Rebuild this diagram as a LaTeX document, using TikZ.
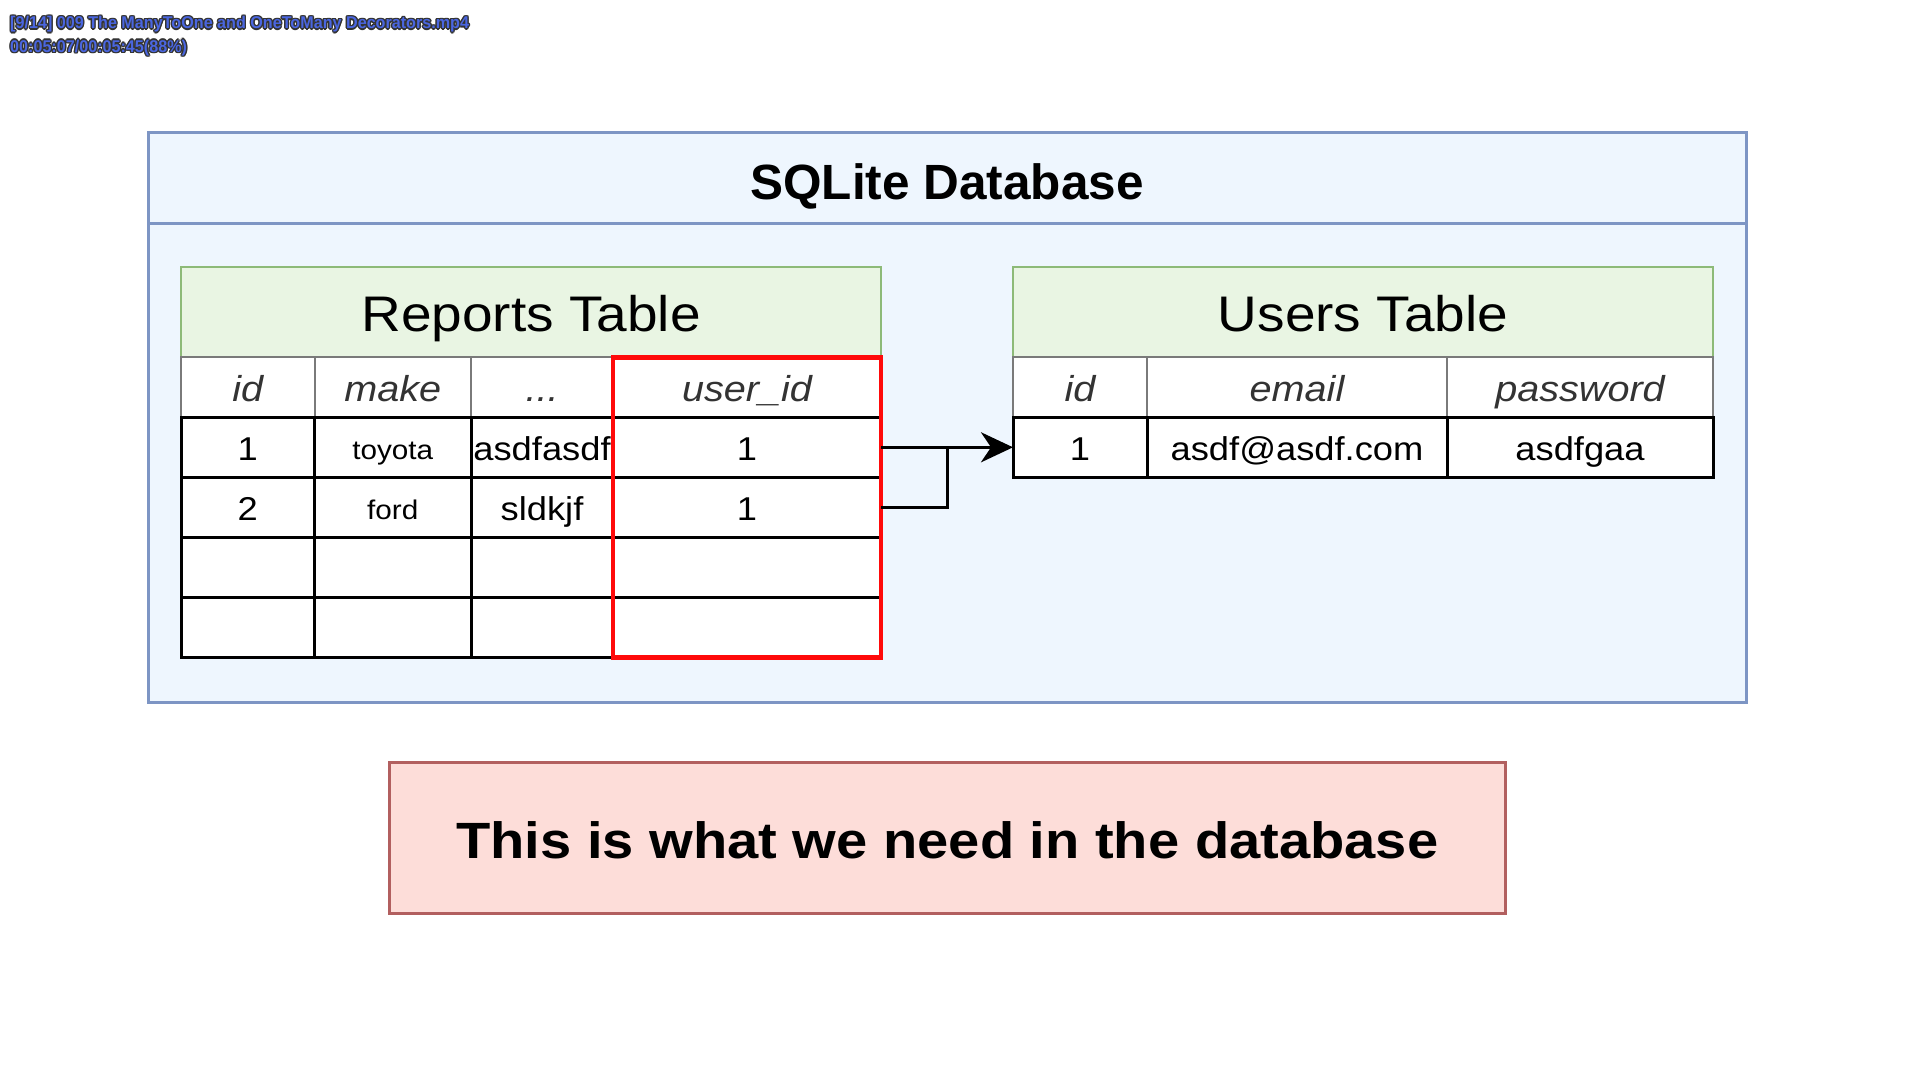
\documentclass[tikz,border=0pt]{standalone}
\usepackage{fontspec}
\setmainfont{Liberation Sans}[FakeStretch=1.1]
\newfontfamily\titlefont{Liberation Sans}
\newfontfamily\ovfont{Liberation Sans}[FakeStretch=0.95]
\usetikzlibrary{calc,arrows.meta}
\definecolor{dbfill}{HTML}{EEF6FE}
\definecolor{dbline}{HTML}{7D95C4}
\definecolor{tabfill}{HTML}{E9F5E3}
\definecolor{tabline}{HTML}{8DBA78}
\definecolor{notefill}{HTML}{FDDDD9}
\definecolor{noteline}{HTML}{B25F5F}
\definecolor{headtext}{HTML}{333333}
\definecolor{hgray}{HTML}{7A7A7A}
\definecolor{ovblue}{HTML}{4A66E0}
\definecolor{ovdark}{HTML}{333333}
\definecolor{redmark}{HTML}{FF0A0A}
\begin{document}
\begin{tikzpicture}[x=1pt,y=-1pt,
  box/.style={anchor=north west, inner sep=0pt, outer sep=0pt},
  band/.style={box, draw=tabline, fill=tabfill, line width=2pt, minimum height=90.6pt, minimum width=700pt,
    font=\fontsize{50}{58}\selectfont, text height=39pt, text depth=0pt},
  hcell/.style={box, draw=hgray, fill=white, line width=2pt, minimum height=60pt,
    font=\fontsize{36}{43}\selectfont\itshape, text=headtext, text height=27.3pt, text depth=0pt},
  dcell/.style={box, draw=black, fill=white, line width=3pt, minimum height=60pt,
    font=\fontsize{33}{39}\selectfont, text height=27pt, text depth=0pt},
  scell/.style={dcell, font=\fontsize{27}{32}\selectfont, text height=25pt},
  ovtext/.style={anchor=west, inner sep=0pt, font=\ovfont\bfseries\fontsize{17}{20}\selectfont}
]
\useasboundingbox (0,0) rectangle (1919,1079);
\fill[white] (0,0) rectangle (1919,1079);

% overlay text of the video player
\foreach \dx/\dy [count=\k] in {-1.4/0,1.4/0,0/-1.4,0/1.4,-1/-1,1/1,-1/1,1/-1}{
  \node[ovtext, text=ovdark] (ovs\k) at (10+\dx,24.5+\dy) {[9/14] 009 The ManyToOne and OneToMany Decorators.mp4};
  \node[ovtext, text=ovdark] (ovt\k) at (10+\dx,47.7+\dy) {00:05:07/00:05:45(88\%)};
}
\node[ovtext, text=ovblue] (ov1) at (10,24.5) {[9/14] 009 The ManyToOne and OneToMany Decorators.mp4};
\node[ovtext, text=ovblue] (ov2) at (10,47.7) {00:05:07/00:05:45(88\%)};

% database container
\node[box, draw=dbline, fill=dbfill, line width=3pt, minimum width=1598pt, minimum height=570.5pt] (db) at (148,132) {};
\node[box, draw=dbline, line width=3pt, minimum width=1598pt, minimum height=91pt,
  font=\titlefont\bfseries\fontsize{49.5}{58}\selectfont, text height=43pt, text depth=0pt] (dbhead) at (148,132) {SQLite Database};

% Reports table
\node[band] (rtitle) at (181,266.8) {Reports Table};
\node[hcell, minimum width=133.5pt] (rhid)   at (181,357.4) {id};
\node[hcell, minimum width=156.5pt] (rhmake) at (314.5,357.4) {make};
\node[hcell, minimum width=142pt]   (rhdots) at (471,357.4) {...};
\node[hcell, minimum width=268pt]   (rhuid)  at (613,357.4) {user\_id};

\node[dcell, minimum width=133.5pt] (r1id)   at (181,417.3) {1};
\node[scell, minimum width=156.5pt] (r1make) at (314.5,417.3) {toyota};
\node[dcell, minimum width=142pt]   (r1dots) at (471,417.3) {asdfasdf};
\node[dcell, minimum width=268pt]   (r1uid)  at (613,417.3) {1};

\node[dcell, minimum width=133.5pt] (r2id)   at (181,477.3) {2};
\node[scell, minimum width=156.5pt] (r2make) at (314.5,477.3) {ford};
\node[dcell, minimum width=142pt]   (r2dots) at (471,477.3) {sldkjf};
\node[dcell, minimum width=268pt]   (r2uid)  at (613,477.3) {1};

\node[dcell, minimum width=133.5pt] (r3id)   at (181,537.3) {};
\node[dcell, minimum width=156.5pt] (r3make) at (314.5,537.3) {};
\node[dcell, minimum width=142pt]   (r3dots) at (471,537.3) {};
\node[dcell, minimum width=268pt]   (r3uid)  at (613,537.3) {};

\node[dcell, minimum width=133.5pt] (r4id)   at (181,597.3) {};
\node[dcell, minimum width=156.5pt] (r4make) at (314.5,597.3) {};
\node[dcell, minimum width=142pt]   (r4dots) at (471,597.3) {};
\node[dcell, minimum width=268pt]   (r4uid)  at (613,597.3) {};

% highlight of the user_id column
\draw[redmark, line width=4.5pt] (rhuid.north west) rectangle (r4uid.south east);

% Users table
\node[band] (utitle) at (1013,266.8) {Users Table};
\node[hcell, minimum width=134pt] (uhid)    at (1013,357.4) {id};
\node[hcell, minimum width=300pt] (uhemail) at (1147,357.4) {email};
\node[hcell, minimum width=266pt] (uhpass)  at (1447,357.4) {password};

\node[dcell, minimum width=134pt] (u1id)    at (1013,417.3) {1};
\node[dcell, minimum width=300pt] (u1email) at (1147,417.3) {asdf@asdf.com};
\node[dcell, minimum width=266pt] (u1pass)  at (1447,417.3) {asdfgaa};

% connectors
\coordinate (elb) at ($(r2uid.east)!0.5!(u1id.west |- r2uid.east)$);
\draw[line width=3pt, -{Stealth[length=32pt,width=30pt,inset=10pt]}] (r1uid.east) -- (u1id.west);
\draw[line width=3pt] (r2uid.east) -| (elb |- r1uid.east);

% note
\node[box, draw=noteline, fill=notefill, line width=3pt, minimum width=1116.5pt, minimum height=150.5pt,
  font=\fontsize{51}{60}\selectfont\bfseries, text height=41pt, text depth=0pt] (note) at (389,762.5)
  {This is what we need in the database};
\end{tikzpicture}
\end{document}
